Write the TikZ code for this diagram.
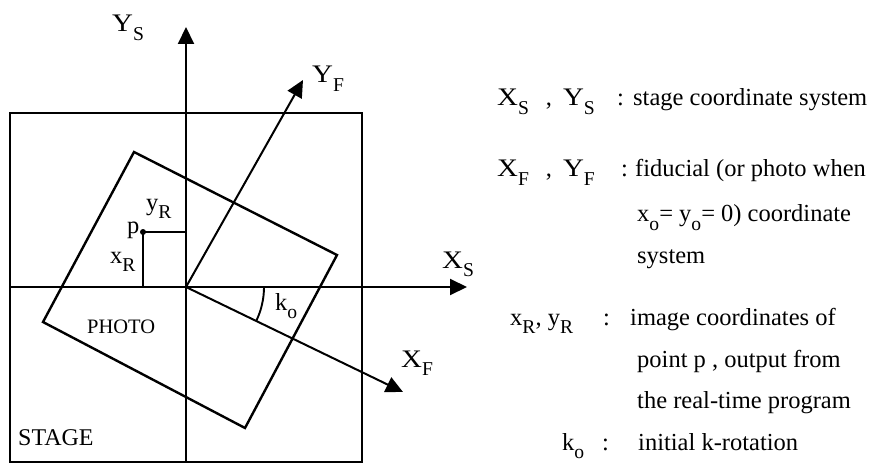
\documentclass[tikz,border=0pt]{standalone}
\usepackage{fontspec}
\setmainfont{Liberation Serif}
\usepackage{graphicx}
\usetikzlibrary{arrows.meta,calc}
\newcommand\sbs[1]{\raisebox{-0.33em}{\scalebox{0.8}{#1}}}
\newcommand\capw[1]{\scalebox{1.18}[1.03]{#1}}
\begin{document}
\begin{tikzpicture}[x=1pt,y=-1pt,
  lw/.style={line width=2.4pt},
  thinl/.style={line width=1.9pt},
  axis/.style={line width=2pt,-{Triangle[length=17pt,width=16pt]}},
  lab/.style={inner sep=0pt,anchor=base west,font=\fontsize{24.5}{28}\selectfont},
  leg/.style={inner sep=0pt,anchor=base west,font=\fontsize{24.5}{28}\selectfont}]
\useasboundingbox (0,0) rectangle (872,465);
% key points
\coordinate (O) at (186,287);
\coordinate (ST1) at (10,113);
\coordinate (ST2) at (362,462);
\coordinate (YSbot) at (186,462);
\coordinate (YStip) at (186,27);
\coordinate (XSleft) at (10,287);
\coordinate (XStip) at (467,287);
\coordinate (YFtip) at (303,80);
\coordinate (XFtip) at (403,392);
\coordinate (P1) at (134,152);
\coordinate (P2) at (337,255);
\coordinate (P3) at (245,428);
\coordinate (P4) at (43,322);
\coordinate (p) at (143,232);
\coordinate (K1) at ($(O)+(78,0)$);
% stage and photo
\draw[lw] (ST1) rectangle (ST2);
\draw[lw,line join=miter] (P1) -- (P2) -- (P3) -- (P4) -- cycle;
% axes
\draw[axis] (YSbot) -- (YStip);
\draw[axis] (XSleft) -- (XStip);
\draw[axis] (O) -- (YFtip);
\draw[axis] (O) -- (XFtip);
% point p
\draw[thinl] (O |- p) -- (p) -- (p |- O);
\fill (p) circle (3);
% angle k_o
\draw[thinl] (K1) arc[start angle=0,end angle=26,radius=78];
% diagram labels
\node[lab] (lYS) at (112,32) {\capw{Y}\sbs{S}};
\node[lab] (lYF) at (312,83) {\capw{Y}\sbs{F}};
\node[lab] (lXS) at (442,268) {\capw{X}\sbs{S}};
\node[lab] (lXF) at (401,367) {\capw{X}\sbs{F}};
\node[lab] (lp) at (127,233) {p};
\node[lab] (lyR) at (146,210) {y\sbs{R}};
\node[lab] (lxR) at (110,263) {x\sbs{R}};
\node[lab] (lko) at (275,310) {k\sbs{o}};
\node[inner sep=0pt,anchor=base west,font=\fontsize{20.5}{24}\selectfont] (lphoto) at (87,333) {PHOTO};
\node[inner sep=0pt,anchor=base west,font=\fontsize{24}{28}\selectfont] (lstage) at (18,445) {STAGE};
% legend
\node[leg] (a1) at (497,106) {\capw{X}\sbs{S}\hspace{17pt},\hspace{11pt}\capw{Y}\sbs{S}};
\node[leg] (c1) at (617,106) {:};
\node[leg] (t1) at (633,106) {stage coordinate system};
\node[leg] (a2) at (497,177) {\capw{X}\sbs{F}\hspace{17pt},\hspace{11pt}\capw{Y}\sbs{F}};
\node[leg] (c2) at (621,177) {:};
\node[leg] (t2) at (635,177) {fiducial (or photo when};
\node[leg] (t3) at (637,222) {x\sbs{o}= y\sbs{o}= 0) coordinate};
\node[leg] (t4) at (637,263) {system};
\node[leg] (a5) at (510,325) {x\sbs{R}, y\sbs{R}};
\node[leg] (c5) at (603,325) {:};
\node[leg] (t5) at (630,325) {image coordinates of};
\node[leg] (t6) at (637,367) {point p , output from};
\node[leg] (t7) at (637,408) {the real-time program};
\node[leg] (a8) at (562,450) {k\sbs{o}};
\node[leg] (c8) at (602,450) {:};
\node[leg] (t8) at (638,450) {initial k-rotation};
\end{tikzpicture}
\end{document}
